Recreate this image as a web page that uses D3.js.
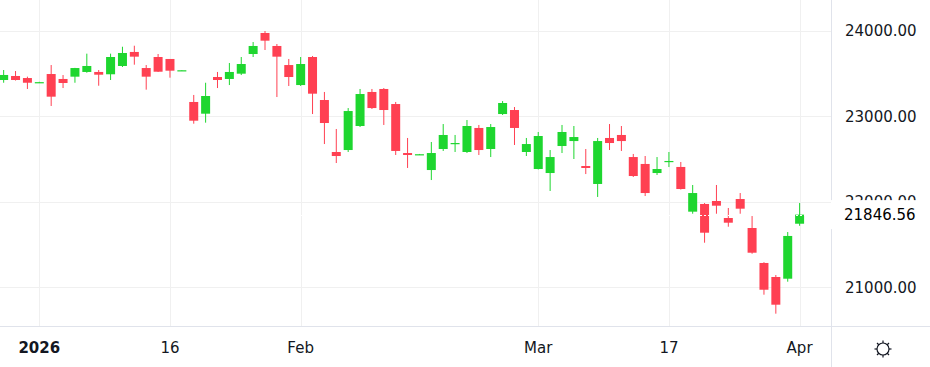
<!DOCTYPE html>
<html>
<head>
<meta charset="utf-8">
<script src="https://cdn.jsdelivr.net/npm/d3@7"></script>
<style>
  html, body { margin: 0; padding: 0; background: #ffffff; }
  svg { display: block; }
  text { font-family: "DejaVu Sans", Verdana, sans-serif; }
</style>
</head>
<body>
<svg id="chart" width="930" height="367"></svg>
<script>
// ---- data (bar index 0..67, daily candles) ----
const opens = [23421,23468,23444,23392,23491,23433,23460,23515,23515,23488,23585,23749,23561,23690,23667,23532,23164,23027,23456,23433,23495,23725,23971,23819,23596,23362,23690,23187,22579,22602,22883,23281,23316,23140,22567,22549,22368,22614,22672,22579,22860,22614,23023,23070,22579,22380,22333,22649,22707,22415,22205,22743,22778,22520,22439,22333,22469,22404,21881,21971,22006,21807,22029,21690,21281,21117,21097,21740];
const highs = [23538,23526,23460,23400,23596,23479,23563,23729,23538,23729,23810,23822,23596,23725,23667,23537,23246,23389,23515,23620,23690,23865,23994,23842,23667,23690,23702,23281,22848,23093,23316,23316,23327,23164,22743,22556,22696,22906,22778,22953,22895,22906,23175,23105,22743,22813,22602,22895,22883,22614,22743,22906,22883,22556,22532,22520,22579,22462,22193,21982,22193,21924,22099,21830,21290,21140,21643,21982];
const lows = [23389,23415,23316,23388,23117,23327,23389,23506,23354,23421,23573,23600,23308,23515,23448,23530,22910,22922,23327,23362,23479,23690,23772,23222,23351,23351,23023,22672,22450,22579,22871,23082,22895,22544,22392,22546,22251,22591,22579,22567,22544,22520,23012,22661,22532,22375,22123,22567,22497,22321,22053,22602,22591,22287,22064,22310,22403,22140,21857,21518,21857,21705,21857,21389,20910,20688,21062,21716];
const closes = [23480,23421,23389,23396,23226,23386,23561,23585,23483,23690,23737,23694,23460,23518,23530,23535,22945,23234,23421,23515,23608,23819,23881,23694,23456,23608,23261,22918,22532,23058,23257,23093,23070,22591,22544,22553,22567,22778,22684,22883,22602,22871,23152,22860,22672,22766,22520,22813,22754,22392,22707,22684,22707,22298,22099,22380,22474,22146,22099,21635,21951,21752,21916,21401,20968,20793,21597,21846.56];

const timeTickIndex = [3, 14, 25, 45, 56, 67];
const timeTickLabels = ["2026", "16", "Feb", "Mar", "17", "Apr"];
const timeTickBold = [true, false, false, false, false, false];
const priceTicks = [21000, 22000, 23000, 24000];
const lastPrice = 21846.56;

// ---- layout ----
const W = 930, H = 367;
const plotW = 831, plotH = 326;
const upColor = "#1ed62f", downColor = "#ff4052";

const x = d3.scaleLinear().domain([3, 67]).range([39.3, 799.6]);
const y = d3.scaleLinear().domain([21000, 24000]).range([287, 30.5]);

const svg = d3.select("#chart");

svg.append("defs").append("clipPath").attr("id", "plotClip")
  .append("rect").attr("x", 0).attr("y", 0).attr("width", plotW).attr("height", plotH);

const plot = svg.append("g").attr("clip-path", "url(#plotClip)");

// grid
plot.append("g").selectAll("line").data(priceTicks).join("line")
  .attr("x1", 0).attr("x2", plotW)
  .attr("y1", d => Math.round(y(d)) + 0.5).attr("y2", d => Math.round(y(d)) + 0.5)
  .attr("stroke", "#f0f0f0").attr("stroke-width", 1);
plot.append("g").selectAll("line").data(timeTickIndex).join("line")
  .attr("y1", 0).attr("y2", plotH)
  .attr("x1", d => Math.round(x(d)) + 0.5).attr("x2", d => Math.round(x(d)) + 0.5)
  .attr("stroke", "#f0f0f0").attr("stroke-width", 1);

// candles
const idx = d3.range(closes.length);
const bodyW = 9;
const candles = plot.append("g").selectAll("g").data(idx).join("g");
candles.append("line")
  .attr("x1", i => x(i)).attr("x2", i => x(i))
  .attr("y1", i => y(highs[i])).attr("y2", i => y(lows[i]))
  .attr("stroke", i => closes[i] >= opens[i] ? upColor : downColor)
  .attr("stroke-width", 1);
candles.append("rect")
  .attr("x", i => x(i) - bodyW / 2)
  .attr("width", bodyW)
  .attr("y", i => Math.min(y(opens[i]), y(closes[i])))
  .attr("height", i => Math.max(1.2, Math.abs(y(opens[i]) - y(closes[i]))))
  .attr("fill", i => closes[i] >= opens[i] ? upColor : downColor);

// last price dotted line
plot.append("line")
  .attr("x1", 0).attr("x2", plotW)
  .attr("y1", Math.round(y(lastPrice)) + 0.5).attr("y2", Math.round(y(lastPrice)) + 0.5)
  .attr("stroke", "#ffffff").attr("stroke-width", 1).attr("stroke-dasharray", "2,2");

// axis borders
svg.append("line").attr("x1", plotW + 0.5).attr("x2", plotW + 0.5).attr("y1", 0).attr("y2", H)
  .attr("stroke", "#e0e3eb");
svg.append("line").attr("x1", 0).attr("x2", W).attr("y1", plotH + 0.5).attr("y2", plotH + 0.5)
  .attr("stroke", "#e0e3eb");

// price axis labels
const yAxis = d3.axisRight(y).tickValues(priceTicks).tickFormat(d3.format(".2f")).tickSize(0).tickPadding(0);
const yAxisG = svg.append("g").attr("transform", `translate(845,0)`).call(yAxis);
yAxisG.select(".domain").remove();
yAxisG.selectAll("text").attr("font-size", 15).attr("fill", "#131722")
  .attr("font-family", "DejaVu Sans, sans-serif").attr("dy", "0.35em");

// last price label box
const ly = y(lastPrice);
svg.append("rect").attr("x", plotW).attr("y", ly - 14.5).attr("width", W - plotW).attr("height", 29)
  .attr("fill", "#ffffff");
svg.append("text").attr("x", 844).attr("y", ly).attr("dy", "0.35em")
  .attr("font-size", 15).attr("fill", "#000000").text(d3.format(".2f")(lastPrice));

// time axis labels
svg.append("g").selectAll("text").data(timeTickIndex).join("text")
  .attr("x", d => x(d)).attr("y", 348).attr("dy", "0.35em")
  .attr("text-anchor", "middle").attr("font-size", 15).attr("fill", "#131722")
  .attr("font-weight", (d, i) => timeTickBold[i] ? "bold" : "normal")
  .text((d, i) => timeTickLabels[i]);

// gear icon
const gear = svg.append("g").attr("transform", "translate(883,349)")
  .attr("stroke", "#131722").attr("fill", "none").attr("stroke-width", 1.2);
gear.append("circle").attr("r", 6);
gear.selectAll("line").data(d3.range(8)).join("line")
  .attr("x1", a => 6 * Math.cos(a * Math.PI / 4)).attr("y1", a => 6 * Math.sin(a * Math.PI / 4))
  .attr("x2", a => 8.5 * Math.cos(a * Math.PI / 4)).attr("y2", a => 8.5 * Math.sin(a * Math.PI / 4));
</script>
</body>
</html>
